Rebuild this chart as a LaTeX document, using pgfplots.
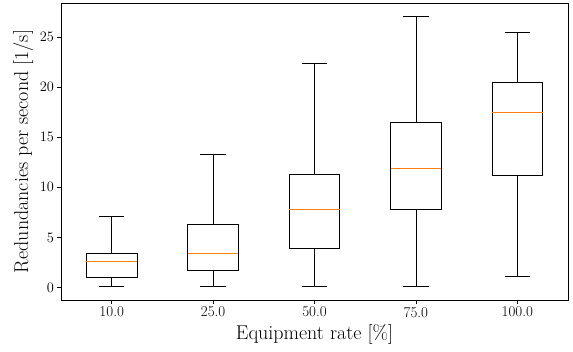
\documentclass[border=0pt]{standalone}
\usepackage{pgfplots}
\pgfplotsset{compat=1.18}
\usepgfplotslibrary{statistics}
\definecolor{mplorange}{HTML}{FF7F0E}
\pgfplotsset{
  mybox/.style={draw=black, line width=0.8pt, solid,
    boxplot/every median/.style={draw=none}},
  mymed/.style={draw=mplorange, line width=1.1pt, mark=none, forget plot},
}
\begin{document}
\begin{tikzpicture}
\begin{axis}[
  scale only axis,
  width=507pt, height=297pt,
  at={(0,0)}, anchor=south west,
  xmin=0.5, xmax=5.5,
  ymin=-1.25, ymax=28.4,
  xtick={1,2,3,4,5},
  xticklabels={10.0,25.0,50.0,75.0,100.0},
  ytick={0,5,10,15,20,25},
  tick align=outside,
  tick pos=left,
  major tick length=3.5pt,
  tick style={black, line width=0.6pt},
  axis line style={black, line width=0.8pt},
  tick label style={font=\fontsize{15}{17}\selectfont},
  label style={font=\fontsize{20}{24}\selectfont},
  xlabel={Equipment rate [\%]},
  ylabel={Redundancies per second [1/s]},
  boxplot/draw direction=y,
  boxplot/box extend=0.5,
  boxplot/whisker extend=0.25,
]
\addplot[mybox, boxplot prepared={draw position=1,
  lower whisker=0.08, lower quartile=1.0, median=2.6,
  upper quartile=3.44, upper whisker=7.05}] coordinates {};
\addplot[mybox, boxplot prepared={draw position=2,
  lower whisker=0.08, lower quartile=1.66, median=3.36,
  upper quartile=6.33, upper whisker=13.3}] coordinates {};
\addplot[mybox, boxplot prepared={draw position=3,
  lower whisker=0.1, lower quartile=3.9, median=7.76,
  upper quartile=11.3, upper whisker=22.33}] coordinates {};
\addplot[mybox, boxplot prepared={draw position=4,
  lower whisker=0.1, lower quartile=7.76, median=11.86,
  upper quartile=16.43, upper whisker=27.05}] coordinates {};
\addplot[mybox, boxplot prepared={draw position=5,
  lower whisker=1.1, lower quartile=11.23, median=17.43,
  upper quartile=20.46, upper whisker=25.46}] coordinates {};
% medians
\addplot[mymed] coordinates {(0.75,2.6) (1.25,2.6)};
\addplot[mymed] coordinates {(1.75,3.36) (2.25,3.36)};
\addplot[mymed] coordinates {(2.75,7.76) (3.25,7.76)};
\addplot[mymed] coordinates {(3.75,11.86) (4.25,11.86)};
\addplot[mymed] coordinates {(4.75,17.43) (5.25,17.43)};
\end{axis}
\pgfresetboundingbox
\path (-61pt,-51pt) rectangle (512pt,300pt);
\end{tikzpicture}
\end{document}
